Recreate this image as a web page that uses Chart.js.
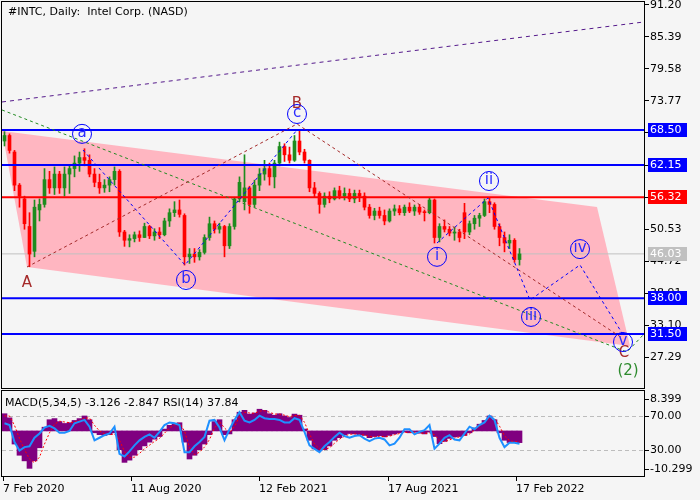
<!DOCTYPE html>
<html>
<head>
<meta charset="utf-8">
<title>#INTC, Daily</title>
<script src="https://cdn.jsdelivr.net/npm/chart.js@4.4.1/dist/chart.umd.min.js"></script>
<style>
  html, body { margin: 0; padding: 0; background: #f5f5f5; }
  #wrap { position: relative; width: 700px; height: 500px; overflow: hidden; }
  #prices { position: absolute; left: 0; top: 0; }
  #osc { position: absolute; left: 0; top: 390px; }
</style>
</head>
<body>
<div id="wrap">
  <canvas id="prices" width="700" height="390"></canvas>
  <canvas id="osc" width="700" height="110"></canvas>
</div>
<script>
// weekly bars (one bar every 5 trading days from 7 Feb 2020)
const open = [
  66.5, 67.5, 64.5, 58.5, 56.0, 51.0, 46.5, 54.0, 55.0, 59.5,
  58.0, 60.5, 58.0, 60.5, 61.5, 62.5, 63.5, 63.0, 60.5, 59.0,
  58.0, 58.5, 59.5, 61.0, 50.0, 48.5, 48.8, 49.5, 49.0, 51.0,
  49.3, 50.0, 49.5, 52.0, 53.5, 54.0, 53.0, 45.5, 46.0, 45.5,
  46.3, 49.0, 51.5, 50.5, 51.0, 47.5, 51.0, 56.0, 55.5, 58.0,
  55.0, 58.5, 60.5, 61.5, 60.0, 62.5, 65.5, 64.0, 63.0, 66.5,
  64.5, 63.0, 58.0, 57.0, 55.0, 56.5, 56.0, 57.5, 56.5, 57.0,
  56.0, 57.0, 56.5, 54.5, 53.0, 53.8, 53.0, 52.0, 53.8, 54.2,
  53.5, 54.5, 53.8, 54.5, 53.6, 53.5, 55.8, 49.0, 51.0, 50.5,
  49.8, 50.0, 53.5, 50.0, 51.5, 52.5, 53.0, 55.5, 55.0, 51.0,
  49.0, 48.0, 48.5, 45.0
];
const high = [
  68.2, 67.8, 64.8, 58.8, 56.5, 53.5, 55.8, 56.0, 61.5, 61.0,
  61.8, 61.0, 61.8, 62.0, 63.8, 64.5, 65.1, 64.0, 61.5, 60.5,
  59.5, 60.0, 61.8, 61.3, 50.3, 49.5, 50.0, 50.2, 51.6, 51.2,
  50.6, 50.8, 52.5, 54.2, 55.5, 55.8, 53.3, 47.0, 47.0, 46.8,
  49.5, 52.7, 52.0, 51.6, 51.2, 51.5, 56.3, 60.0, 64.0, 58.3,
  59.4, 61.5, 63.0, 62.5, 63.0, 66.3, 66.0, 65.4, 67.5, 68.5,
  65.0, 63.1, 59.0, 57.3, 57.1, 57.3, 58.0, 58.3, 58.0, 57.8,
  57.6, 57.6, 57.1, 55.0, 54.3, 54.5, 54.0, 54.2, 54.9, 54.8,
  54.9, 55.3, 54.9, 55.0, 54.0, 56.2, 56.0, 51.5, 52.2, 51.0,
  50.9, 50.5, 55.2, 52.0, 53.0, 53.4, 56.0, 56.2, 55.3, 51.5,
  50.0, 49.5, 48.8, 47.0
];
const low = [
  65.6, 64.3, 57.5, 54.5, 50.5, 43.7, 45.5, 52.0, 54.5, 57.0,
  56.8, 57.0, 56.5, 57.0, 60.0, 61.0, 62.0, 60.0, 58.2, 57.0,
  57.2, 57.3, 58.5, 49.2, 47.4, 47.3, 48.2, 48.3, 49.0, 48.8,
  48.5, 48.8, 49.3, 51.0, 52.8, 52.7, 44.0, 44.3, 44.5, 44.9,
  46.0, 48.5, 49.8, 49.8, 45.5, 47.0, 50.5, 55.5, 54.0, 53.4,
  54.5, 57.5, 59.4, 58.5, 58.0, 62.0, 62.8, 62.5, 62.8, 64.0,
  62.5, 57.3, 56.3, 53.4, 54.5, 55.3, 55.8, 56.0, 55.8, 55.5,
  55.3, 55.5, 54.0, 52.5, 52.2, 52.5, 51.3, 51.8, 53.0, 53.1,
  53.0, 53.5, 53.0, 53.2, 52.0, 53.3, 48.0, 48.2, 50.0, 49.3,
  48.5, 48.2, 48.8, 49.5, 50.5, 51.0, 52.8, 53.5, 50.5, 47.5,
  46.4, 47.0, 44.5, 44.0
];
const close = [
  67.5, 64.8, 58.5, 56.5, 51.5, 46.0, 54.5, 55.0, 59.5, 58.0,
  60.5, 58.0, 60.5, 61.5, 62.5, 63.5, 63.0, 60.5, 59.0, 58.0,
  58.5, 59.5, 61.0, 50.0, 48.5, 48.8, 49.5, 49.0, 51.0, 49.3,
  50.0, 49.5, 52.0, 53.5, 54.0, 53.2, 45.5, 46.0, 45.5, 46.3,
  49.0, 51.5, 50.5, 51.0, 47.5, 51.0, 56.0, 59.0, 58.0, 55.0,
  58.5, 60.5, 61.5, 60.0, 62.5, 65.5, 64.0, 63.0, 66.5, 64.5,
  63.0, 58.0, 57.0, 55.0, 56.5, 56.0, 57.5, 56.5, 57.0, 56.0,
  57.0, 56.5, 54.5, 53.0, 53.8, 53.0, 52.0, 53.8, 54.2, 53.5,
  54.5, 53.8, 54.5, 53.6, 53.5, 55.8, 49.0, 51.0, 50.5, 49.8,
  50.0, 49.0, 50.0, 51.5, 52.5, 53.0, 55.5, 55.0, 51.0, 49.0,
  48.0, 48.5, 45.0, 46.03
];

// oscillator panel, same bars
const macd = [
  4.6, 3.5, -3.5, -6.5, -8.0, -10.0, -8.0, -4.5, 1.0, 3.0,
  3.3, 2.5, 2.0, 2.2, 2.8, 3.3, 4.0, 3.0, -0.5, -1.0,
  -1.2, -1.0, -0.5, -5.0, -8.4, -7.8, -6.5, -5.0, -4.0, -3.0,
  -2.2, -1.5, 0.5, 1.5, 2.0, 2.2, -3.0, -7.5, -6.5, -5.0,
  -3.5, -1.0, 2.5, 3.0, -1.0, -0.8, 3.0, 5.0, 5.5, 4.5,
  4.8, 5.8, 5.5, 4.6, 4.2, 4.6, 4.0, 3.6, 4.5, 4.2,
  0.5, -2.5, -4.8, -5.3, -5.0, -4.0, -2.5, -1.8, -1.0, -0.7,
  -0.8, -1.0, -1.2, -1.8, -1.5, -1.3, -1.6, -1.2, -0.8, -0.5,
  -0.3, -0.5, -0.3, -0.6, -0.8, -0.3, -1.5, -3.4, -2.8, -2.0,
  -1.6, -1.5, -1.2, -0.5, 0.8, 1.8, 2.8, 4.0, 3.0, -0.5,
  -2.5, -3.1, -3.0, -3.126
];
const signal = [
  4.0, 4.0, 1.5, -2.0, -5.0, -7.5, -8.5, -7.0, -3.5, -0.5,
  1.8, 2.6, 2.4, 2.2, 2.4, 2.8, 3.4, 3.5, 1.5, 0.0,
  -0.8, -1.0, -0.8, -2.5, -5.5, -7.2, -7.0, -6.0, -4.8, -3.8,
  -2.8, -2.0, -0.6, 0.8, 1.6, 2.0, 0.0, -4.5, -6.3, -5.7,
  -4.3, -2.3, 0.8, 2.5, 0.8, -0.5, 1.2, 3.8, 5.0, 4.8,
  4.7, 5.3, 5.4, 5.0, 4.5, 4.5, 4.2, 3.8, 4.1, 4.2,
  2.3, -0.8, -3.5, -4.8, -5.0, -4.5, -3.3, -2.2, -1.4, -0.9,
  -0.8, -0.9, -1.1, -1.5, -1.6, -1.4, -1.5, -1.4, -1.0, -0.7,
  -0.4, -0.4, -0.4, -0.5, -0.7, -0.5, -1.0, -2.5, -2.9, -2.4,
  -1.9, -1.6, -1.3, -0.8, 0.2, 1.3, 2.3, 3.4, 3.4, 1.3,
  -1.3, -2.6, -2.9, -2.847
];
const rsi = [
  62, 60, 40, 30, 34, 35, 45, 50, 57, 59,
  56, 51, 51, 53, 62, 64, 66, 58, 42, 45,
  48, 50, 58, 26, 23, 29, 36, 42, 46, 49,
  45, 52, 60, 63, 62, 60, 28, 28, 35, 40,
  46, 65, 66, 57, 42, 55, 66, 75, 65, 63,
  66, 71, 68, 67, 67, 66, 63, 63, 68, 66,
  52, 36, 32, 28, 35, 40, 46, 51, 47, 45,
  47, 48, 44, 41, 44, 45, 43, 36, 38, 45,
  55, 55, 49, 52, 54, 60, 32, 38, 45, 48,
  43, 42, 50, 58, 55, 60, 63, 71, 66, 45,
  34, 39, 39, 37.84
];

// axes
const tickDays = [1, 129, 257, 386, 514];
const tickLabels = ['7 Feb 2020', '11 Aug 2020', '12 Feb 2021', '17 Aug 2021', '17 Feb 2022'];
const priceTicks = [27.29, 33.10, 38.91, 44.72, 50.53, 56.34, 62.15, 67.96, 73.77, 79.58, 85.39, 91.20];
const rsiLevels = [70, 30];
const macdTicks = [8.399, -10.299];

// horizontal levels
const levels = [68.50, 62.15, 56.32, 46.03, 38.00, 31.50];
const levelColors = ['#0000ff', '#0000ff', '#ff0000', '#c0c0c0', '#0000ff', '#0000ff'];
const levelWidths = [2, 2, 2, 1, 2, 2];

// wave markup: [trading day, price]
const minorAbc = [[81, 64.87], [183, 44.02], [295, 68.5]];
const minorImpulse = [[435, 48.0], [486, 56.17], [528, 37.67], [578, 44.02], [620, 31.68]];
const majorAbc = [[25, 43.65], [295, 69.59], [620, 30.8]];
const greenTrend = [[0, 72.13], [625, 28.24], [641, 31.3]];
const purpleTrend = [[0, 73.58], [642, 88.09]];
const channel = [[0, 68.32], [595, 54.54], [628, 29.33], [25, 43.65]];

const circleLabels = [
  ['a', 80, 67.8], ['b', 184, 41.3], ['c', 295, 71.4],
  ['i', 435, 45.5], ['ii', 487, 59.25], ['iii', 529, 34.6], ['iv', 578, 46.9], ['v', 621, 30.05]
];
const majorLabels = [['A', 25, 40.75], ['B', 295, 73.2], ['C', 622, 28.06]];
const degreeLabels = [['(2)', 626, 24.8]];

const X_MIN = 0, X_MAX = 642;
const FONT = '"DejaVu Sans", sans-serif';
Chart.defaults.font.family = FONT;
Chart.defaults.font.size = 11;
Chart.defaults.color = '#000';

const barDay = i => i * 5 + 2.5;
const toPoints = arr => arr.map(p => ({ x: p[0], y: p[1] }));
const candleColors = close.map((c, i) => c >= open[i] ? '#1e8c1e' : '#ff0000');

const framePlugin = {
  id: 'frame',
  afterDraw(chart) {
    const { ctx, chartArea: a } = chart;
    ctx.save();
    ctx.strokeStyle = '#000';
    ctx.lineWidth = 1;
    ctx.strokeRect(a.left - 0.5, a.top - 0.5, a.right - a.left + 1, a.bottom - a.top + 1);
    ctx.restore();
  }
};

const channelPlugin = {
  id: 'channel',
  beforeDatasetsDraw(chart) {
    const { ctx, chartArea: a, scales: { x, y } } = chart;
    ctx.save();
    ctx.beginPath();
    ctx.rect(a.left, a.top, a.right - a.left, a.bottom - a.top);
    ctx.clip();
    ctx.beginPath();
    channel.forEach((p, i) => {
      const px = x.getPixelForValue(p[0]);
      const py = y.getPixelForValue(p[1]);
      if (i) ctx.lineTo(px, py); else ctx.moveTo(px, py);
    });
    ctx.closePath();
    ctx.fillStyle = '#ffb6c1';
    ctx.fill();
    ctx.restore();
  }
};

const waveLabelsPlugin = {
  id: 'waveLabels',
  afterDatasetsDraw(chart) {
    const { ctx, scales: { x, y } } = chart;
    ctx.save();
    ctx.textAlign = 'center';
    ctx.textBaseline = 'middle';
    ctx.font = '15px ' + FONT;
    ctx.fillStyle = '#a52a2a';
    majorLabels.forEach(l => ctx.fillText(l[0], x.getPixelForValue(l[1]), y.getPixelForValue(l[2])));
    ctx.fillStyle = '#2e8b2e';
    degreeLabels.forEach(l => ctx.fillText(l[0], x.getPixelForValue(l[1]), y.getPixelForValue(l[2])));
    circleLabels.forEach(l => {
      const px = x.getPixelForValue(l[1]);
      const py = y.getPixelForValue(l[2]);
      ctx.strokeStyle = '#0000ff';
      ctx.lineWidth = 1;
      ctx.beginPath();
      ctx.arc(px, py, 9.5, 0, Math.PI * 2);
      ctx.stroke();
      ctx.fillStyle = '#2a2aff';
      ctx.fillText(l[0], px, py - 1);
    });
    ctx.restore();
  }
};

const levelTagsPlugin = {
  id: 'levelTags',
  afterDraw(chart) {
    const { ctx, chartArea: a, scales: { y } } = chart;
    ctx.save();
    ctx.font = '11px ' + FONT;
    ctx.textBaseline = 'middle';
    levels.forEach((v, i) => {
      const py = Math.round(y.getPixelForValue(v));
      ctx.fillStyle = levelColors[i];
      ctx.fillRect(a.right + 4, py - 7, 39, 14);
      ctx.fillStyle = '#fff';
      ctx.fillText(v.toFixed(2), a.right + 6, py);
    });
    ctx.fillStyle = '#000';
    ctx.fillText('#INTC, Daily:  Intel Corp. (NASD)', 8, 12);
    ctx.restore();
  }
};

const hLine = v => [{ x: X_MIN, y: v }, { x: X_MAX, y: v }];
const dashed = (data, color, dash, order) => ({
  type: 'line', data, borderColor: color, borderWidth: 1, borderDash: dash,
  pointRadius: 0, fill: false, tension: 0, order
});

new Chart(document.getElementById('prices'), {
  type: 'bar',
  data: {
    datasets: [
      dashed(toPoints(minorAbc), '#0000ff', [3, 3], 1),
      dashed(toPoints(minorImpulse), '#0000ff', [3, 3], 1),
      dashed(toPoints(majorAbc), '#a52a2a', [3, 3], 1),
      dashed(toPoints(greenTrend), '#228b22', [3, 3], 1),
      dashed(toPoints(purpleTrend), '#551a8b', [4, 4], 1),
      ...levels.map((v, i) => ({
        type: 'line', data: hLine(v), borderColor: levelColors[i], borderWidth: levelWidths[i],
        pointRadius: 0, fill: false, order: levelColors[i] === '#c0c0c0' ? 9 : 2
      })),
      {
        type: 'bar',
        data: close.map((c, i) => ({ x: barDay(i), y: [Math.min(open[i], c), Math.max(open[i], c)] })),
        backgroundColor: candleColors,
        barThickness: 3,
        minBarLength: 1,
        grouped: false,
        order: 5
      },
      {
        type: 'bar',
        data: high.map((h, i) => ({ x: barDay(i), y: [low[i], h] })),
        backgroundColor: candleColors,
        barThickness: 1,
        grouped: false,
        order: 6
      }
    ]
  },
  options: {
    responsive: false,
    animation: false,
    layout: { padding: { left: 2, top: 2, right: 0, bottom: 2 } },
    plugins: { legend: { display: false }, tooltip: { enabled: false } },
    scales: {
      x: { type: 'linear', min: X_MIN, max: X_MAX, offset: false, display: false },
      y: {
        position: 'right',
        min: 21.71,
        max: 91.71,
        border: { color: '#000' },
        grid: { drawOnChartArea: false, tickLength: 5, color: '#000' },
        ticks: { padding: 1, color: '#000', autoSkip: false, callback: v => v.toFixed(2) },
        afterBuildTicks: s => { s.ticks = priceTicks.map(v => ({ value: v })); },
        afterFit: s => { s.width = 56; s.paddingTop = 0; s.paddingBottom = 0; }
      }
    }
  },
  plugins: [channelPlugin, waveLabelsPlugin, framePlugin, levelTagsPlugin]
});

const macdLabelsPlugin = {
  id: 'macdLabels',
  afterDraw(chart) {
    const { ctx, chartArea: a, scales: { yM } } = chart;
    ctx.save();
    ctx.font = '11px ' + FONT;
    ctx.fillStyle = '#000';
    ctx.strokeStyle = '#000';
    ctx.lineWidth = 1;
    ctx.textBaseline = 'middle';
    macdTicks.forEach(v => {
      const py = Math.round(yM.getPixelForValue(v)) + 0.5;
      ctx.beginPath();
      ctx.moveTo(a.right, py);
      ctx.lineTo(a.right + 5, py);
      ctx.stroke();
      ctx.fillText(v.toFixed(3), a.right + 6, py);
    });
    const title = 'MACD(5,34,5) ' + macd[macd.length - 1].toFixed(3) + ' ' +
      signal[signal.length - 1].toFixed(3) + ' RSI(14) ' + rsi[rsi.length - 1].toFixed(2);
    ctx.fillText(title, 5, 13);
    ctx.restore();
  }
};

new Chart(document.getElementById('osc'), {
  type: 'bar',
  data: {
    datasets: [
      {
        type: 'line', yAxisID: 'yR',
        data: rsi.map((v, i) => ({ x: barDay(i), y: v })),
        borderColor: '#1e90ff', borderWidth: 2, pointRadius: 0, tension: 0, order: 1
      },
      {
        type: 'line', yAxisID: 'yM',
        data: signal.map((v, i) => ({ x: barDay(i), y: v })),
        borderColor: '#ff0000', borderWidth: 1, borderDash: [2, 2], pointRadius: 0, tension: 0, order: 2
      },
      ...rsiLevels.map(v => ({
        type: 'line', yAxisID: 'yR', data: hLine(v),
        borderColor: '#bdbdbd', borderWidth: 1, borderDash: [4, 3], pointRadius: 0, order: 4
      })),
      {
        type: 'bar', yAxisID: 'yM',
        data: macd.map((v, i) => ({ x: barDay(i), y: v })),
        backgroundColor: '#800080',
        barThickness: 5,
        order: 3
      }
    ]
  },
  options: {
    responsive: false,
    animation: false,
    layout: { padding: { left: 2, top: 1, right: 0, bottom: 0 } },
    plugins: { legend: { display: false }, tooltip: { enabled: false } },
    scales: {
      x: {
        type: 'linear', min: X_MIN, max: X_MAX, offset: false,
        border: { color: '#000' },
        grid: { drawOnChartArea: false, offset: false, tickLength: 5, color: '#000' },
        ticks: { align: 'start', padding: 2, maxRotation: 0, autoSkip: false, color: '#000',
          callback: (v, i) => tickLabels[i] },
        afterBuildTicks: s => { s.ticks = tickDays.map(v => ({ value: v })); },
        afterFit: s => { s.height = 24; s.paddingLeft = 0; s.paddingRight = 0; }
      },
      yR: {
        position: 'right', min: 0, max: 100,
        border: { color: '#000' },
        grid: { drawOnChartArea: false, tickLength: 5, color: '#000' },
        ticks: { padding: 1, color: '#000', callback: v => v.toFixed(2) },
        afterBuildTicks: s => { s.ticks = rsiLevels.map(v => ({ value: v })); },
        afterFit: s => { s.width = 56; s.paddingTop = 0; s.paddingBottom = 0; }
      },
      yM: { display: false, min: -12.04, max: 10.67 }
    }
  },
  plugins: [framePlugin, macdLabelsPlugin]
});
</script>
</body>
</html>
